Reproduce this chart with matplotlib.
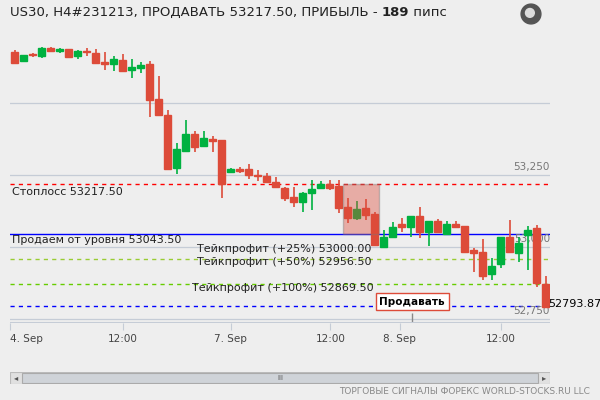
import matplotlib.pyplot as plt
from matplotlib.patches import Rectangle

# OHLC candles, H4
opens = [53676, 53646, 53670, 53665, 53691, 53681, 53687, 53663, 53677, 53674,
         53642, 53635, 53649, 53615, 53622, 53635, 53514, 53458, 53274, 53333,
         53392, 53351, 53375, 53372, 53260, 53271, 53271, 53247, 53247, 53226,
         53205, 53174, 53156, 53188, 53205, 53219, 53212, 53139, 53101, 53135,
         53115, 53000, 53035, 53080, 53069, 53108, 53052, 53090, 53045, 53080,
         53073, 52990, 52983, 52906, 52941, 53035, 52979, 53042, 53066, 52872]
closes = [53639, 53667, 53667, 53692, 53681, 53687, 53660, 53681, 53677, 53639,
          53635, 53653, 53611, 53625, 53632, 53510, 53458, 53271, 53340, 53392,
          53347, 53378, 53368, 53219, 53271, 53264, 53250, 53247, 53226, 53208,
          53170, 53156, 53188, 53201, 53219, 53205, 53135, 53101, 53132, 53111,
          53007, 53035, 53069, 53069, 53108, 53052, 53090, 53052, 53080, 53069,
          52983, 52979, 52899, 52934, 53035, 52983, 53014, 53059, 52875, 52792]
highs = [53684, 53667, 53674, 53694, 53694, 53691, 53687, 53684, 53691, 53687,
         53677, 53663, 53670, 53653, 53642, 53646, 53594, 53476, 53361, 53441,
         53403, 53403, 53385, 53372, 53274, 53278, 53288, 53267, 53257, 53243,
         53208, 53208, 53191, 53233, 53229, 53233, 53233, 53170, 53160, 53167,
         53122, 53059, 53087, 53101, 53104, 53139, 53090, 53097, 53090, 53090,
         53073, 52996, 53028, 52962, 53035, 53094, 53035, 53073, 53076, 52899]
lows = [53639, 53642, 53660, 53656, 53677, 53674, 53660, 53653, 53663, 53639,
        53615, 53611, 53608, 53587, 53604, 53451, 53458, 53267, 53253, 53333,
        53330, 53347, 53330, 53170, 53260, 53257, 53236, 53229, 53226, 53205,
        53160, 53139, 53122, 53128, 53205, 53198, 53118, 53083, 53094, 53094,
        53003, 52997, 53031, 53052, 53035, 53031, 53003, 53052, 53042, 53069,
        52983, 52913, 52885, 52885, 52927, 52979, 52948, 52920, 52861, 52792]

x_ticks = [-0.5, 12, 24, 35.1, 42.8, 54]
x_labels = ["4. Sep", "12:00", "7. Sep", "12:00", "8. Sep", "12:00"]
y_ticks = [53500, 53250, 53000, 52750]

stoploss = 53219
sell_level = 53045
tp25 = 52958
tp50 = 52872
tp100 = 52796

UP = "#00b140"
DOWN = "#dd4b39"
BG = "#eeeeee"

fig = plt.figure(figsize=(6, 4), dpi=100, facecolor=BG)
ax = fig.add_axes([10/600, 77/400, 540/600, 298/400])
ax.set_facecolor(BG)
for s in ax.spines.values():
    s.set_visible(False)

for v in y_ticks:
    ax.axhline(v, color="#c5ccd6", lw=0.9, zorder=0)
for v in y_ticks[1:]:
    ax.text(59.5, v + 12, f"{v:,}", ha="right", va="bottom", color="#777777", fontsize=7.5)

for i in range(len(opens)):
    o, c, h, l = opens[i], closes[i], highs[i], lows[i]
    col = UP if c > o else DOWN
    ax.vlines(i, l, h, color=col, lw=1.2, zorder=3)
    bot, top = min(o, c), max(o, c)
    ax.add_patch(Rectangle((i - 0.35, bot), 0.7, max(top - bot, 2.5), color=col, zorder=4))

ax.add_patch(Rectangle((36.5, sell_level), 4, stoploss - sell_level, facecolor="#dd4b39",
                       alpha=0.4, edgecolor="#777777", lw=1, zorder=5))

ax.axhline(stoploss, color="red", ls=(0, (3, 3)), lw=1, zorder=2)
ax.axhline(sell_level, color="blue", lw=1, zorder=2)
ax.axhline(tp25, color="#99cc33", ls=(0, (3, 3)), lw=1, zorder=2)
ax.axhline(tp50, color="#66cc00", ls=(0, (3, 3)), lw=1, zorder=2)
ax.axhline(tp100, color="blue", ls=(0, (3, 3)), lw=1, zorder=2)

tf = dict(fontsize=8, color="#222222", zorder=6)
ax.text(-0.3, stoploss - 10, "Стоплосс 53217.50", va="top", **tf)
ax.text(-0.3, sell_level - 5, "Продаем от уровня 53043.50", va="top", **tf)
ax.text(20.3, 52993, "Тейкпрофит (+25%) 53000.00", va="center", **tf)
ax.text(20.3, 52948, "Тейкпрофит (+50%) 52956.50", va="center", **tf)
ax.text(19.7, 52858, "Тейкпрофит (+100%) 52869.50", va="center", **tf)
ax.text(59.3, tp100 + 5, "52793.87", va="center", ha="left", fontsize=8, clip_on=False, zorder=6)

ax.vlines(44.2, 52736, 52770, color="#888888", lw=1)
ax.text(44.2, 52810, "Продавать", ha="center", va="center", fontsize=7.5, fontweight="bold",
        zorder=7, bbox=dict(boxstyle="square,pad=0.35", fc="white", ec="#dd4b39", lw=1))

ax.set_xlim(-0.5, 59.5)
ax.set_ylim(52736, 53771)
ax.set_yticks([])
ax.set_xticks(x_ticks)
ax.set_xticklabels(x_labels, fontsize=7.5, color="#444444")
ax.tick_params(axis="x", length=5, color="#c5ccd6", pad=3)
for lab in ax.get_xticklabels()[:1]:
    lab.set_ha("left")
ax.axhline(52736, color="#c5ccd6", lw=1.5)

# title in three parts, chained by offset
t1 = fig.text(10/600, 1 - 12/400, "US30, H4#231213, ПРОДАВАТЬ 53217.50, ПРИБЫЛЬ - ",
              va="center", fontsize=9.5, color="#222222")
t2 = fig.text(0, 0, "189", fontsize=9.5, fontweight="bold", color="#222222")
t3 = fig.text(0, 0, " пипс", fontsize=9.5, color="#222222")
fig.canvas.draw()
r = fig.canvas.get_renderer()
bb1 = t1.get_window_extent(r)
t2.set_position((bb1.x1 / 600, 1 - 12/400))
t2.set_va("center")
bb2 = t2.get_window_extent(r)
t3.set_position((bb2.x1 / 600, 1 - 12/400))
t3.set_va("center")

# globe icon
g = fig.add_axes([520/600, 1 - 25/400, 22/600, 22/400])
g.set_axis_off()
g.add_patch(plt.Circle((0.5, 0.5), 0.45, color="#555555"))
g.add_patch(plt.Circle((0.45, 0.55), 0.2, color="#dddddd"))
g.set_xlim(0, 1)
g.set_ylim(0, 1)

# scrollbar
sb = fig.add_axes([10/600, 1 - 384/400, 540/600, 12/400])
sb.set_axis_off()
sb.set_xlim(0, 540)
sb.set_ylim(0, 1)
sb.add_patch(Rectangle((0, 0), 540, 1, fc="#e0e0e0", ec="#bbbbbb", lw=0.8))
sb.add_patch(Rectangle((12, 0.05), 516, 0.9, fc="#cfd3d8", ec="#aaaaaa", lw=0.8))
sb.text(6, 0.5, "◂", ha="center", va="center", fontsize=6, color="#555555")
sb.text(534, 0.5, "▸", ha="center", va="center", fontsize=6, color="#555555")
sb.text(270, 0.5, "III", ha="center", va="center", fontsize=5, color="#555555")

fig.text(590/600, 1 - 392/400, "ТОРГОВЫЕ СИГНАЛЫ ФОРЕКС WORLD-STOCKS.RU LLC", ha="right",
         va="center", fontsize=6.5, color="#888888")

fig.savefig("out.png", dpi=100, facecolor=BG)
